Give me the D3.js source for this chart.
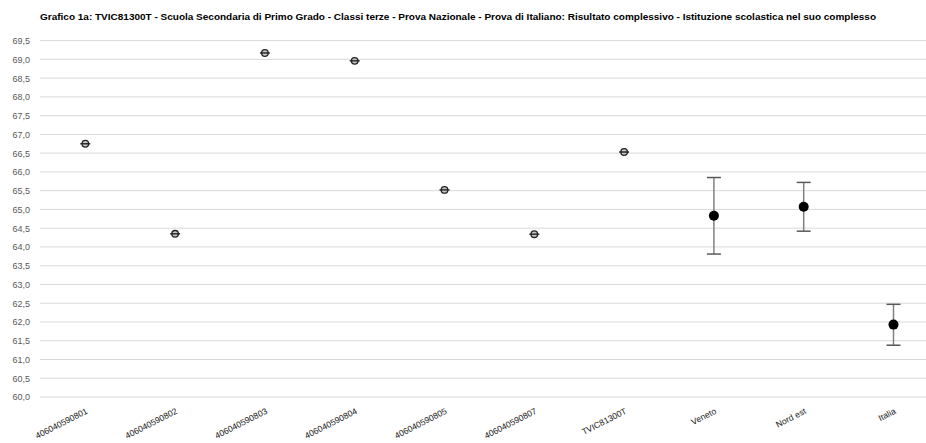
<!DOCTYPE html>
<html><head><meta charset="utf-8">
<script src="https://cdn.jsdelivr.net/npm/d3@7"></script>
<style>body{margin:0;background:#fff}svg{display:block}</style>
</head><body>
<svg id="c" width="926" height="443"></svg>
<script>
const title = "Grafico 1a: TVIC81300T - Scuola Secondaria di Primo Grado - Classi terze - Prova Nazionale - Prova di Italiano: Risultato complessivo - Istituzione scolastica nel suo complesso";
const categories = ["406040590801","406040590802","406040590803","406040590804","406040590805","406040590807","TVIC81300T","Veneto","Nord est","Italia"];
const values = [66.75, 64.35, 69.17, 68.96, 65.52, 64.34, 66.53, 64.83, 65.07, 61.93];
const lower  = [null, null, null, null, null, null, null, 63.81, 64.42, 61.38];
const upper  = [null, null, null, null, null, null, null, 65.85, 65.72, 62.47];
const yTicks = d3.range(60, 69.51, 0.5);

const svg = d3.select("#c");
const x = d3.scaleBand().domain(categories).range([40.4, 938.4]);
const y = d3.scaleLinear().domain([60, 69.5]).range([397, 40.6]);
const fmt = v => d3.format(".1f")(v).replace(".", ",");

svg.append("text").attr("x", 458).attr("y", 20).attr("text-anchor", "middle")
  .attr("font-family", "Liberation Sans, Arial, sans-serif").attr("font-size", 9.8).attr("font-weight", "bold")
  .attr("textLength", 836).attr("lengthAdjust", "spacingAndGlyphs")
  .attr("fill", "#000").text(title);

// gridlines
svg.append("g").selectAll("line").data(yTicks).join("line")
  .attr("x1", 40).attr("x2", 938).attr("y1", d => y(d)).attr("y2", d => y(d))
  .attr("stroke", "#d9d9d9").attr("stroke-width", 1);

// y axis labels
const yAxis = svg.append("g").attr("transform", "translate(32,0)")
  .call(d3.axisLeft(y).tickValues(yTicks).tickFormat(fmt).tickSize(0).tickPadding(2));
yAxis.select(".domain").remove();
yAxis.selectAll("text").attr("font-family", "Liberation Sans, Arial, sans-serif").attr("font-size", 9).attr("fill", "#595959");

// x axis labels
const xAxis = svg.append("g").attr("transform", "translate(0,397)")
  .call(d3.axisBottom(x).tickSize(0));
xAxis.select(".domain").remove();
xAxis.selectAll("text")
  .attr("font-family", "Liberation Sans, Arial, sans-serif").attr("font-size", 8.6).attr("fill", "#222")
  .attr("text-anchor", "end").attr("dy", null).attr("y", 0)
  .attr("transform", "translate(3,16) rotate(-27)");

const pts = categories.map((c, i) => ({c, v: values[i], lo: lower[i], hi: upper[i]}));
const cx = d => x(d.c) + x.bandwidth() / 2;

// error bars
const eb = pts.filter(d => d.lo != null);
const g = svg.append("g");
g.selectAll(".ev").data(eb).join("line")
  .attr("x1", cx).attr("x2", cx).attr("y1", d => y(d.lo)).attr("y2", d => y(d.hi))
  .attr("stroke", "#808080").attr("stroke-width", 1.5);
g.selectAll(".cap-hi").data(eb).join("line")
  .attr("x1", d => cx(d) - 7).attr("x2", d => cx(d) + 7).attr("y1", d => y(d.hi)).attr("y2", d => y(d.hi))
  .attr("stroke", "#595959").attr("stroke-width", 1.5);
g.selectAll(".cap-lo").data(eb).join("line")
  .attr("x1", d => cx(d) - 7).attr("x2", d => cx(d) + 7).attr("y1", d => y(d.lo)).attr("y2", d => y(d.lo))
  .attr("stroke", "#595959").attr("stroke-width", 1.5);
g.selectAll(".dot").data(eb).join("circle")
  .attr("cx", cx).attr("cy", d => y(d.v)).attr("r", 5).attr("fill", "#000");

// school markers
const sp = pts.filter(d => d.lo == null);
g.selectAll(".sc").data(sp).join("circle")
  .attr("cx", cx).attr("cy", d => y(d.v)).attr("r", 3.3)
  .attr("fill", "#c8c8c8").attr("stroke", "#222").attr("stroke-width", 1.3);
g.selectAll(".sl").data(sp).join("line")
  .attr("x1", d => cx(d) - 5).attr("x2", d => cx(d) + 5).attr("y1", d => y(d.v)).attr("y2", d => y(d.v))
  .attr("stroke", "#222").attr("stroke-width", 1.4);
</script>
</body></html>
